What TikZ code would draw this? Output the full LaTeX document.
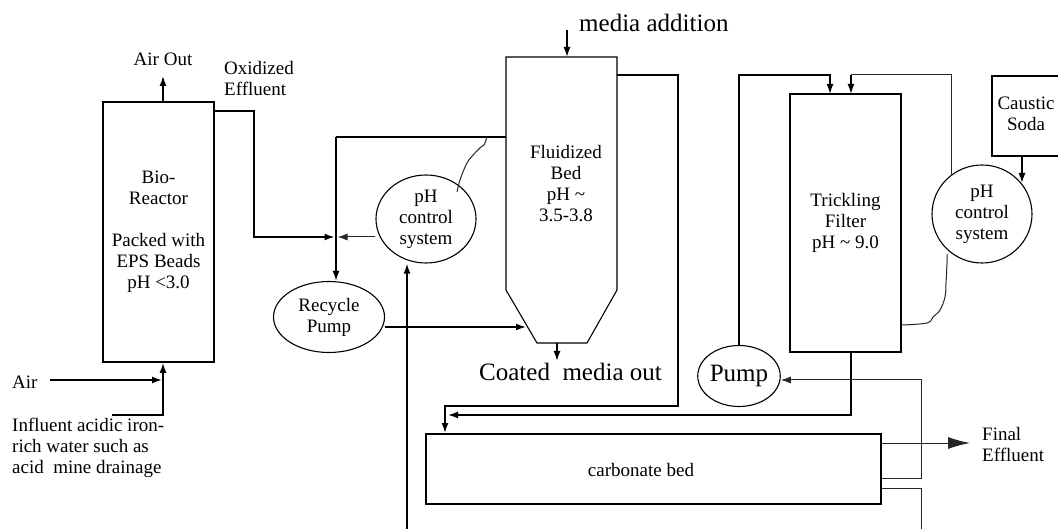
\documentclass[tikz,border=0pt]{standalone}
\usepackage{fontspec}
\setmainfont{Liberation Serif}
\usetikzlibrary{arrows.meta,shapes.geometric}
\begin{document}
\begin{tikzpicture}[x=1pt,y=-1pt,
  thickline/.style={line width=1.6pt},
  medline/.style={line width=1.1pt},
  thinline/.style={line width=1pt, draw=black!85},
  arr/.style={-{Latex[length=10pt,width=7pt]}},
  bigarr/.style={-{Latex[length=22pt,width=12pt]}},
  txt/.style={font=\fontsize{19}{21}\selectfont},
  bigtxt/.style={font=\fontsize{25}{27}\selectfont},
  box/.style={draw, line width=1.6pt, inner sep=0pt, align=center, txt},
  oval/.style={draw, ellipse, line width=1.1pt, inner sep=0pt, align=center, txt},
  lbl/.style={inner sep=0pt, align=left, txt},
]
\useasboundingbox (0,0) rectangle (1058,529);

% ---------- main units ----------
\node[box, minimum width=111pt, minimum height=260pt] (bio) at (158.5,232)
  {Bio-\\Reactor\\[21pt]Packed with\\EPS Beads\\pH <3.0};
\node[box, minimum width=111pt, minimum height=258pt] (tf) at (845.5,223)
  {Trickling\\Filter\\pH \textasciitilde\ 9.0};
\node[box, minimum width=455pt, minimum height=70pt] (bed) at (653.5,469) {};
\node[lbl] (bedtext) at (641,470) {carbonate bed};

% caustic soda (open at the right edge)
\draw[thickline] (1058,76) -- (992,76) -- (992,156) -- (1058,156);
\node[lbl, align=center] (caustic) at (1026,114) {Caustic\\Soda};

% fluidized bed
\draw[medline] (506,290) -- (506,57) -- (617,57) -- (617,290) -- (587,343) -- (537,343) -- cycle;
\node[lbl, align=center] (fbtext) at (566,184) {Fluidized\\Bed\\pH \textasciitilde\\3.5-3.8};

% ellipses
\node[oval, minimum width=100pt, minimum height=88pt] (pHL) at (426,219) {pH\\control\\system};
\node[oval, minimum width=111pt, minimum height=71pt] (recycle) at (329,317) {Recycle\\Pump};
\node[oval, minimum width=100pt, minimum height=98pt] (pHR) at (982,214) {pH\\control\\system};
\node[oval, minimum width=81pt, minimum height=61pt, bigtxt] (pump) at (739,376) {Pump};

% ---------- labels ----------
\node[lbl, align=center] (airout) at (163,59) {Air Out};
\node[lbl, anchor=west] (oxeff) at (224,78.5) {Oxidized\\Effluent};
\node[lbl, anchor=west, bigtxt] (media) at (579,23) {media addition};
\node[lbl, anchor=west, bigtxt] (coated) at (479,372) {Coated\ \ media out};
\node[lbl, anchor=west] (air) at (12,382) {Air};
\node[lbl, anchor=west] (influent) at (12,448) {Influent acidic iron-\\rich water such as\\acid\ \ mine drainage};
\node[lbl, anchor=west] (final) at (982,445) {Final\\Effluent};

% ---------- coordinates ----------
\coordinate (aotip) at (163,76);
\coordinate (airstart) at (50,380);
\coordinate (airtip) at (162,380);
\coordinate (inf) at (112,415);
\coordinate (effout) at (214,111);
\coordinate (effc) at (254,111);
\coordinate (jl) at (334.5,237);
\coordinate (jr) at (337.5,237);
\coordinate (jtop) at (336,137);
\coordinate (fbleft) at (506,137);
\coordinate (vb) at (407,529);
\coordinate (conein) at (526,327);
\coordinate (ma) at (567,30);
\coordinate (fbtop) at (567,57);
\coordinate (fbbot) at (557,343);
\coordinate (cmo) at (557,361);
\coordinate (fbout) at (617,75);
\coordinate (c1) at (678,406);
\coordinate (bedin1) at (445,433);
\coordinate (bedin2) at (448,415);
\coordinate (tfo) at (851,352);
\coordinate (top1) at (830,75);
\coordinate (tfin1) at (830,94);
\coordinate (r1) at (951,176);
\coordinate (top2) at (851,75);
\coordinate (tfin2) at (851,94);
\coordinate (cs) at (1022,156);
\coordinate (cstip) at (1022,183);
\coordinate (bedr1) at (881,443);
\coordinate (fe) at (970,443);
\coordinate (bedr2) at (881,478);
\coordinate (c2) at (921,380);
\coordinate (bedr3) at (881,488);
\coordinate (c3) at (921,529);

% ---------- connectors ----------
\draw[thickline, arr] (bio.north -| aotip) -- (aotip);
\draw[thickline, arr] (airstart) -- (airtip);
\draw[thickline, arr] (inf) -| (bio.south -| aotip);
\draw[thickline, arr] (effout) -- (effc) |- (jl);
\draw[thinline, arr] (pHL.west |- jr) -- (jr);
\draw[thickline] (jtop) -- (fbleft);
\draw[thickline, arr] (jtop) -- (recycle.north -| jtop);
\draw[thinline] plot[smooth, tension=0.6] coordinates {(457,192) (460,180) (467,163) (475,153) (481,147) (484,145) (486,140) (487,137)};
\draw[thickline, arr] (recycle.east |- conein) -- (conein);
\draw[thickline, arr] (vb) -- (pHL.south -| vb);
\draw[thickline, arr] (ma) -- (fbtop);
\draw[thickline, arr] (fbbot) -- (cmo);
\draw[thickline, arr] (fbout) -| (c1) -| (bedin1);
\draw[thickline, arr] (tfo) |- (bedin2);
\draw[thickline, arr] (pump.north) |- (top1) -- (tfin1);
\draw[thinline] (r1) |- (top2);
\draw[thickline, arr] (top2) -- (tfin2);
\draw[thickline, arr] (cs) -- (cstip);
\draw[thinline] plot[smooth, tension=0.6] coordinates {(947,254) (947,263) (946,283) (945,297) (940,310) (933,317) (927,323) (902,325)};
\draw[thinline, arr] (bedr2) -| (c2) -- (pump.east |- c2);
\draw[thinline, bigarr] (bedr1) -- (fe);
\draw[thinline] (bedr3) -| (c3);
\end{tikzpicture}
\end{document}
